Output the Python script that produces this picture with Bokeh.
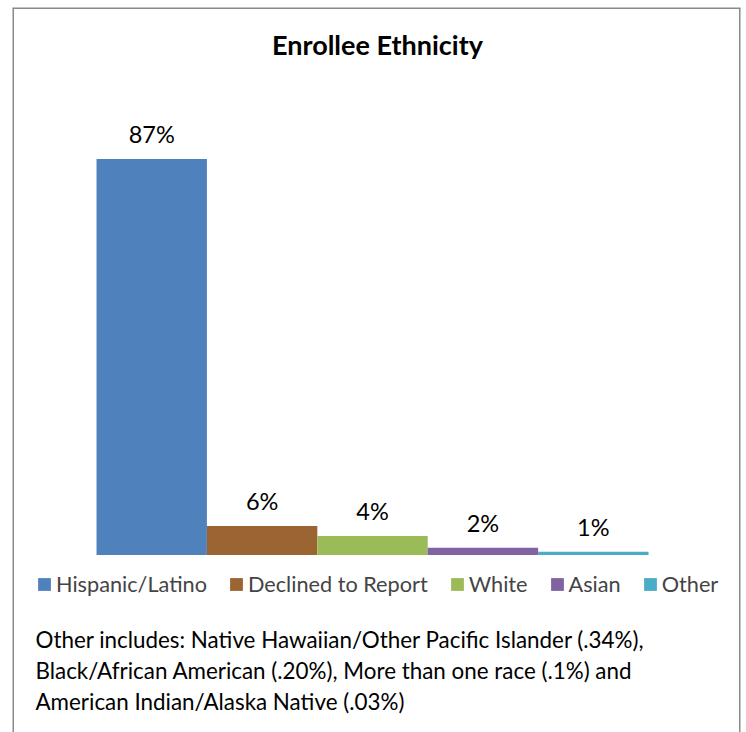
from bokeh.plotting import figure
from bokeh.models import Range1d, ColumnDataSource, Label, Legend, LegendItem, Span
from bokeh.embed import file_html
from bokeh.resources import INLINE
from bokeh.core.properties import value
import numpy as np

title_text = "Enrollee Ethnicity"
categories = ["Hispanic/Latino", "Declined to Report", "White", "Asian", "Other"]
values = [87.0, 6.4, 4.2, 1.6, 0.7]
labels = ["87%", "6%", "4%", "2%", "1%"]
colors = ["#4F81BD", "#9A6532", "#9BBB59", "#8064A2", "#4BACC6"]
footnote = [
    "Other includes:  Native Hawaiian/Other Pacific Islander (.34%),",
    "Black/African American (.20%), More than one race (.1%) and",
    "American Indian/Alaska Native (.03%)",
]

FONT = "Lato"

xr = Range1d(-0.761, 5.833)
yr = Range1d(-39.0, 120.3)
p = figure(width=742, height=732, output_backend="svg", toolbar_location=None,
           x_range=xr, y_range=yr,
           min_border_left=12, min_border_right=2, min_border_top=7, min_border_bottom=0)
p.axis.visible = False
p.grid.visible = False
p.outline_line_color = None
p.background_fill_color = "white"
p.border_fill_color = "white"

# chart-area border (left, top, right only; bottom falls outside the window)
for loc, dim in [(xr.start, "height"), (xr.end, "height"), (yr.end, "width")]:
    p.add_layout(Span(location=loc, dimension=dim, line_color="#8A8A8A", line_width=3))

xs = np.arange(len(categories)) + 0.5
src = ColumnDataSource(dict(x=xs, top=values, color=colors, label=labels, cat=categories))

items = []
for i, c in enumerate(categories):
    r = p.vbar(x=[xs[i]], top=[values[i]], bottom=0, width=1.0,
               fill_color=colors[i], line_color=None)
    items.append(LegendItem(label=c, renderers=[r]))

p.text(x="x", y="top", text="label", source=src, text_align="center",
       text_baseline="middle", y_offset=-25, text_font=value(FONT),
       text_font_size="23.5px", text_color="black")

legend = Legend(items=items, orientation="horizontal", location=(24, 135),
                glyph_width=16, glyph_height=16, label_standoff=4, spacing=21,
                padding=0, margin=0, border_line_color=None,
                background_fill_alpha=0, label_text_font=FONT,
                label_text_font_size="21.7px", label_height=20)
p.add_layout(legend, "center")

p.add_layout(Label(x=365, y=688, x_units="screen", y_units="screen", text=title_text,
                   text_align="center", text_baseline="middle", text_font=FONT,
                   text_font_style="bold", text_font_size="27px", text_color="black"))

for i, line in enumerate(footnote):
    p.add_layout(Label(x=23, y=93 - 31 * i, x_units="screen", y_units="screen",
                       text=line, text_align="left", text_baseline="middle",
                       text_font=FONT, text_font_size="22.4px", text_color="black"))

open("out.html", "w").write(file_html(p, INLINE))
